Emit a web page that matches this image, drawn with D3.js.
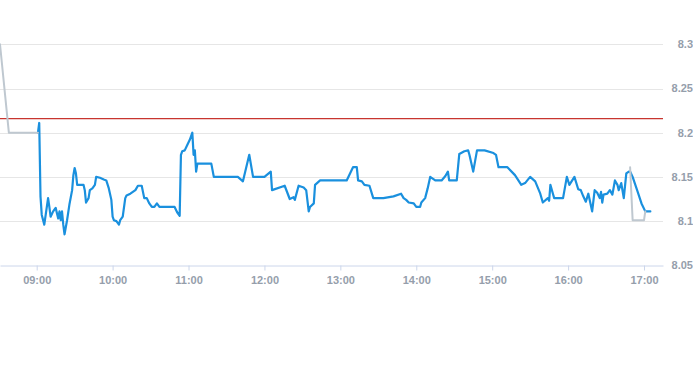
<!DOCTYPE html>
<html>
<head>
<meta charset="utf-8">
<script src="https://cdn.jsdelivr.net/npm/d3@7"></script>
<style>
  html, body { margin: 0; padding: 0; background: #fff; }
  svg { display: block; }
  text { font-family: "Liberation Sans", Arial, sans-serif; }
</style>
</head>
<body>
<svg id="chart" width="693" height="365"></svg>
<script>
// ---- data ----
const blueTimes = ["09:01","09:02","09:03","09:04","09:06","09:09","09:10","09:11","09:13","09:15","09:16","09:17","09:18","09:19","09:20","09:21","09:22","09:24","09:26","09:28","09:29","09:30","09:31","09:32","09:37","09:38","09:39","09:41","09:42","09:44","09:46","09:47","09:50","09:53","09:55","09:57","09:59","10:00","10:01","10:03","10:05","10:06","10:08","10:10","10:11","10:14","10:18","10:20","10:23","10:25","10:27","10:29","10:31","10:33","10:35","10:37","10:39","10:49","10:51","10:53","10:54","10:55","10:57","10:59","11:01","11:03","11:04","11:05","11:06","11:07","11:18","11:20","11:39","11:43","11:48","11:51","12:00","12:05","12:06","12:16","12:20","12:23","12:24","12:27","12:31","12:33","12:35","12:36","12:39","12:40","12:44","13:05","13:10","13:13","13:14","13:17","13:19","13:23","13:26","13:34","13:42","13:48","13:50","13:52","13:54","13:58","14:00","14:03","14:04","14:07","14:09","14:11","14:15","14:20","14:23","14:25","14:26","14:32","14:34","14:38","14:41","14:42","14:45","14:48","14:54","15:01","15:03","15:05","15:12","15:18","15:23","15:26","15:30","15:34","15:38","15:40","15:44","15:45","15:46","15:48","15:49","15:56","15:59","16:01","16:05","16:08","16:10","16:12","16:14","16:16","16:19","16:21","16:23","16:25","16:26","16:27","16:28","16:31","16:33","16:35","16:37","16:39","16:40","16:42","16:44","16:46","16:48","16:49","16:51","16:55","16:58","17:01","17:05"];
const blueValues = [8.200,8.211,8.128,8.107,8.096,8.126,8.116,8.105,8.111,8.115,8.109,8.103,8.111,8.101,8.111,8.096,8.085,8.101,8.120,8.135,8.152,8.160,8.154,8.141,8.141,8.135,8.121,8.126,8.135,8.137,8.141,8.150,8.149,8.147,8.146,8.137,8.124,8.105,8.101,8.100,8.096,8.101,8.105,8.126,8.129,8.131,8.135,8.140,8.140,8.126,8.126,8.120,8.116,8.116,8.120,8.116,8.116,8.116,8.110,8.106,8.175,8.179,8.180,8.186,8.192,8.200,8.175,8.180,8.156,8.165,8.165,8.150,8.150,8.145,8.175,8.150,8.150,8.156,8.135,8.140,8.125,8.127,8.124,8.140,8.138,8.135,8.111,8.116,8.120,8.141,8.146,8.146,8.161,8.161,8.146,8.145,8.141,8.140,8.126,8.126,8.128,8.131,8.126,8.124,8.121,8.120,8.116,8.116,8.121,8.126,8.137,8.150,8.146,8.146,8.151,8.156,8.146,8.146,8.176,8.179,8.180,8.175,8.156,8.180,8.180,8.177,8.175,8.161,8.161,8.152,8.141,8.143,8.150,8.145,8.131,8.121,8.126,8.123,8.141,8.131,8.126,8.126,8.150,8.141,8.150,8.136,8.135,8.128,8.122,8.131,8.111,8.135,8.132,8.126,8.133,8.121,8.130,8.131,8.135,8.130,8.146,8.141,8.135,8.143,8.126,8.154,8.156,8.156,8.150,8.133,8.120,8.111,8.111];

const greyTimes  = ["08:31","08:38","09:01","16:49","16:51","17:00","17:01"];
const greyValues = [8.300, 8.200, 8.200, 8.161, 8.101, 8.101, 8.111];
const greyBreakAfter = ["09:01"];   // gap between the pre-open and closing segments

const refLevel = 8.216;
const yTicks = [8.05, 8.10, 8.15, 8.20, 8.25, 8.30];
const yTickLabels = ["8.05","8.1","8.15","8.2","8.25","8.3"];
const xTicks = ["09:00","10:00","11:00","12:00","13:00","14:00","15:00","16:00","17:00"];
const xDomain = ["08:31","17:15"];
const yDomain = [8.05, 8.30];

// ---- chart ----
const parse = d3.timeParse("%H:%M");
const svg = d3.select("#chart");
const plotLeft = 0, plotRight = 663, plotTop = 44.3, plotBottom = 265.3;

const x = d3.scaleTime().domain(xDomain.map(parse)).range([plotLeft, plotRight]);
const y = d3.scaleLinear().domain(yDomain).range([plotBottom, plotTop]);

// grid lines
svg.append("g").selectAll("line").data(yTicks.slice(1)).join("line")
  .attr("x1", plotLeft).attr("x2", plotRight)
  .attr("y1", d => Math.round(y(d)) + 0.5).attr("y2", d => Math.round(y(d)) + 0.5)
  .attr("stroke", "#e6e6e6").attr("stroke-width", 1);

// y labels on the right
svg.append("g").selectAll("text").data(yTicks).join("text")
  .attr("x", 693).attr("y", d => y(d)).attr("dy", "0.35em")
  .attr("text-anchor", "end")
  .attr("font-size", 11).attr("font-weight", "bold").attr("fill", "#959eab")
  .text((d, i) => yTickLabels[i]);

// x axis
const xAxis = d3.axisBottom(x)
  .tickValues(xTicks.map(parse))
  .tickFormat(d3.timeFormat("%H:%M"))
  .tickSizeInner(5).tickSizeOuter(0).tickPadding(6);
const gx = svg.append("g").attr("transform", `translate(0,${Math.round(plotBottom) + 0.5})`).call(xAxis);
gx.select(".domain").attr("stroke", "#ccd6eb");
gx.selectAll(".tick line").attr("stroke", "#ccd6eb");
gx.selectAll(".tick text").attr("fill", "#959eab").attr("font-size", 11).attr("font-weight", "bold")
  .attr("font-family", "Liberation Sans, Arial, sans-serif");

// reference line
svg.append("line")
  .attr("x1", plotLeft).attr("x2", plotRight)
  .attr("y1", y(refLevel)).attr("y2", y(refLevel))
  .attr("stroke", "#c8352f").attr("stroke-width", 1.2);

// series
const blueData = blueTimes.map((t, i) => ({ t: parse(t), v: blueValues[i] }));
const greyData = [];
greyTimes.forEach((t, i) => {
  greyData.push({ t: parse(t), v: greyValues[i] });
  if (greyBreakAfter.includes(t)) greyData.push({ t: parse(t), v: null });
});

const line = d3.line().defined(d => d.v != null).x(d => x(d.t)).y(d => y(d.v));

svg.append("path").datum(blueData)
  .attr("d", line).attr("fill", "none")
  .attr("stroke", "#1a90de").attr("stroke-width", 2.2)
  .attr("stroke-linejoin", "round").attr("stroke-linecap", "round");

svg.append("path").datum(greyData)
  .attr("d", line).attr("fill", "none")
  .attr("stroke", "#bfc8d0").attr("stroke-width", 2)
  .attr("stroke-linejoin", "round").attr("stroke-linecap", "round");
</script>
</body>
</html>
